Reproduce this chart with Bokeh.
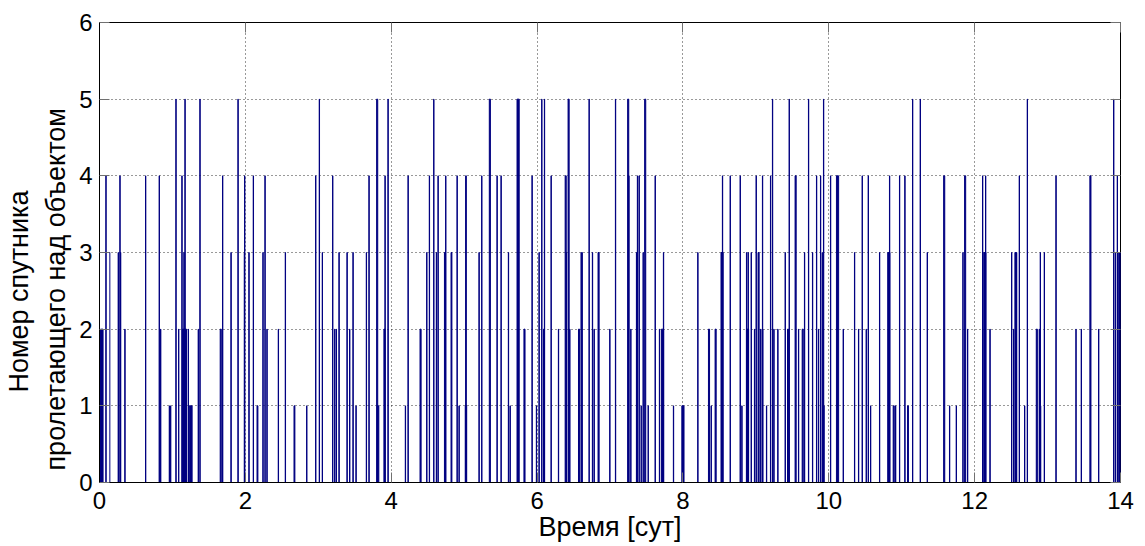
from bokeh.plotting import figure
from bokeh.models import LinearAxis, FixedTicker, ColumnDataSource, Title
from bokeh.embed import file_html
from bokeh.resources import INLINE

# Satellite passes over the object: start time [days], satellite number, pass duration [days]
pass_start = [
    0.000, 0.014, 0.087, 0.256, 0.279, 0.288, 0.347, 0.631, 0.818, 0.837,
    0.956, 0.974, 1.047, 1.084, 1.129, 1.139, 1.157, 1.171, 1.216, 1.230,
    1.353, 1.376, 1.655, 1.687,
    1.802, 1.898, 1.985, 1.989, 2.048, 2.108, 2.160, 2.240, 2.268, 2.295,
    2.451, 2.547, 2.667, 2.840, 2.963, 3.013, 3.054, 3.196, 3.224, 3.246,
    3.283, 3.393, 3.429, 3.475,
    3.516, 3.658, 3.694, 3.800, 3.810, 3.900, 3.914, 3.955, 4.193, 4.230,
    4.395, 4.486, 4.522, 4.582, 4.618, 4.641, 4.730, 4.746, 4.820, 4.902,
    4.929, 5.020, 5.015, 5.203,
    5.240, 5.345, 5.450, 5.505, 5.606, 5.629, 5.725, 5.820, 5.930, 5.990,
    6.026, 6.063, 6.088, 6.100, 6.191, 6.292, 6.385, 6.400, 6.425, 6.447,
    6.568, 6.603, 6.616, 6.712, 6.758, 6.781, 6.836,
    6.996, 7.074, 7.242, 7.250, 7.284, 7.362, 7.375, 7.398, 7.426, 7.453,
    7.475, 7.522, 7.618, 7.677, 7.705, 7.732, 7.869, 7.985, 8.203, 8.350,
    8.386, 8.441, 8.522, 8.541, 8.647,
    8.784, 8.807, 8.871, 8.893, 8.871, 8.935, 8.980, 9.003, 9.030, 9.063,
    9.090, 9.085, 9.145, 9.200, 9.227, 9.246, 9.300, 9.401, 9.434, 9.456,
    9.538, 9.584, 9.635, 9.666, 9.721, 9.776, 9.831, 9.858, 9.886, 9.909,
    9.927, 9.922, 10.023, 10.105, 10.197, 10.352, 10.407,
    10.457, 10.512, 10.540, 10.572, 10.695, 10.808, 10.832, 10.883, 10.915, 10.969,
    11.042, 11.080, 11.148, 11.253, 11.349, 11.575, 11.655, 11.747, 11.838, 11.862,
    11.902, 12.108, 12.125, 12.149,
    12.209, 12.506, 12.533, 12.552, 12.574, 12.611, 12.684, 12.721, 12.845, 12.885,
    12.899, 12.895, 12.954, 13.114, 13.388, 13.461, 13.580, 13.699, 13.905, 13.928,
    13.955, 13.975,
]
pass_sat = [
    3, 2, 4, 3, 4, 3, 2, 4, 4, 2,
    1, 1, 5, 2, 4, 2, 3, 5, 2, 1,
    2, 5, 2, 4,
    3, 5, 3, 4, 3, 4, 1, 3, 4, 2,
    2, 3, 1, 1, 4, 5, 3, 4, 2, 2,
    3, 3, 2, 3,
    1, 3, 4, 5, 1, 2, 4, 5, 1, 4,
    2, 3, 4, 5, 3, 4, 3, 4, 3, 4,
    1, 4, 1, 3,
    4, 5, 4, 4, 3, 1, 5, 2, 4, 1,
    3, 5, 2, 5, 4, 2, 4, 3, 5, 2,
    2, 3, 3, 5, 3, 2, 3,
    2, 5, 5, 4, 2, 3, 4, 4, 1, 3,
    5, 1, 4, 2, 2, 3, 1, 1, 3, 2,
    1, 2, 3, 4, 4,
    4, 1, 3, 3, 2, 3, 2, 4, 3, 2,
    4, 2, 1, 4, 5, 2, 2, 3, 2, 5,
    4, 2, 2, 3, 5, 3, 4, 2, 4, 3,
    5, 1, 4, 4, 2, 3, 2,
    4, 2, 4, 1, 3, 3, 4, 1, 1, 4,
    4, 1, 5, 5, 3, 4, 1, 1, 3, 4,
    2, 4, 3, 4,
    2, 3, 2, 3, 3, 4, 1, 5, 2, 2,
    3, 1, 3, 4, 2, 2, 4, 2, 5, 3,
    4, 3,
]
pass_dur = [
    0.142, 0.035, 0.004, 0.004, 0.004, 0.004, 0.004, 0.004, 0.004, 0.004,
    0.004, 0.004, 0.004, 0.004, 0.004, 0.054, 0.004, 0.004, 0.004, 0.040,
    0.004, 0.004, 0.015, 0.004,
    0.004, 0.004, 0.004, 0.004, 0.004, 0.004, 0.012, 0.004, 0.004, 0.004,
    0.004, 0.004, 0.012, 0.004, 0.004, 0.004, 0.004, 0.004, 0.004, 0.004,
    0.004, 0.004, 0.004, 0.004,
    0.004, 0.004, 0.004, 0.015, 0.020, 0.015, 0.004, 0.004, 0.004, 0.004,
    0.015, 0.004, 0.004, 0.004, 0.004, 0.004, 0.012, 0.004, 0.012, 0.004,
    0.004, 0.010, 0.020, 0.004,
    0.004, 0.015, 0.004, 0.004, 0.004, 0.004, 0.030, 0.015, 0.004, 0.004,
    0.004, 0.004, 0.012, 0.004, 0.004, 0.004, 0.015, 0.004, 0.015, 0.004,
    0.015, 0.004, 0.004, 0.004, 0.004, 0.004, 0.015,
    0.004, 0.004, 0.015, 0.012, 0.004, 0.004, 0.004, 0.004, 0.004, 0.004,
    0.015, 0.004, 0.004, 0.004, 0.030, 0.004, 0.004, 0.030, 0.004, 0.015,
    0.004, 0.015, 0.030, 0.004, 0.004,
    0.004, 0.004, 0.004, 0.004, 0.030, 0.004, 0.004, 0.004, 0.015, 0.004,
    0.004, 0.012, 0.004, 0.004, 0.004, 0.004, 0.004, 0.004, 0.015, 0.004,
    0.015, 0.004, 0.015, 0.004, 0.004, 0.004, 0.004, 0.004, 0.004, 0.004,
    0.004, 0.015, 0.004, 0.030, 0.004, 0.004, 0.004,
    0.004, 0.004, 0.004, 0.004, 0.004, 0.030, 0.004, 0.015, 0.004, 0.004,
    0.004, 0.012, 0.004, 0.004, 0.004, 0.015, 0.004, 0.004, 0.004, 0.015,
    0.004, 0.004, 0.030, 0.004,
    0.004, 0.004, 0.004, 0.015, 0.004, 0.004, 0.004, 0.004, 0.015, 0.004,
    0.004, 0.012, 0.004, 0.004, 0.004, 0.004, 0.015, 0.004, 0.004, 0.004,
    0.004, 0.025,
]

x_ticks = [0, 2, 4, 6, 8, 10, 12, 14]
y_ticks = [0, 1, 2, 3, 4, 5, 6]
x_label = "Время [сут]"
y_label_lines = ["Номер спутника", "пролетающего над объектом"]

LINE = "#000080"
FONT = "Liberation Sans"

# Each pass is a rectangular pulse: 0 -> satellite number -> 0
xs, ys = [], []
for t, n, d in zip(pass_start, pass_sat, pass_dur):
    xs.append([t, t, t + d, t + d])
    ys.append([0, n, n, 0])

# short passes are filled so that clustered pulses read as solid bars
fill_src = ColumnDataSource(dict(
    left=[t for t, d in zip(pass_start, pass_dur) if d < 0.1],
    right=[t + d for t, d in zip(pass_start, pass_dur) if d < 0.1],
    top=[n for n, d in zip(pass_sat, pass_dur) if d < 0.1],
))

p = figure(width=1145, height=546, x_range=(0, 14), y_range=(0, 6),
           output_backend="svg", toolbar_location=None,
           min_border_left=99, min_border_right=25,
           min_border_top=22, min_border_bottom=64)
p.background_fill_color = "white"
p.border_fill_color = "white"
p.outline_line_color = "black"
p.outline_line_width = 1

p.quad(left="left", right="right", bottom=0, top="top", source=fill_src,
       fill_color=LINE, line_color=None)
p.multi_line(xs, ys, line_color=LINE, line_width=1)

for ax in (p.xaxis[0], p.yaxis[0]):
    ax.major_tick_in = 10
    ax.major_tick_out = 0
    ax.minor_tick_line_color = None
    ax.major_tick_line_color = "#707070"
    ax.axis_line_color = "black"
    ax.major_label_text_font = FONT
    ax.major_label_text_font_size = "24px"
    ax.major_label_text_color = "black"
    ax.axis_label_text_font = FONT
    ax.axis_label_text_font_size = "27px"
    ax.axis_label_text_font_style = "normal"
    ax.axis_label_text_color = "black"

p.xaxis.ticker = FixedTicker(ticks=x_ticks)
p.yaxis.ticker = FixedTicker(ticks=y_ticks)
p.xaxis.axis_label = x_label
p.xaxis.major_label_standoff = 9
p.yaxis.major_label_standoff = 7
p.xaxis.axis_label_standoff = 0

# two-line y label as side titles, each line starting a set distance above the frame bottom
for txt, gap, shift in ((y_label_lines[1], 11, 12), (y_label_lines[0], 0, 90)):
    p.add_layout(Title(text=txt, align="left", offset=shift, standoff=gap,
                       text_font=FONT, text_font_size="27px",
                       text_font_style="normal", text_color="black"), "left")

# tick marks on the top and right sides of the box
top_ax = LinearAxis(ticker=FixedTicker(ticks=x_ticks))
right_ax = LinearAxis(ticker=FixedTicker(ticks=y_ticks))
for ax in (top_ax, right_ax):
    ax.major_tick_in = 10
    ax.major_tick_out = 0
    ax.minor_tick_line_color = None
    ax.major_tick_line_color = "#707070"
    ax.axis_line_color = None
    ax.major_label_text_font_size = "1px"
    ax.major_label_text_color = None
    ax.major_label_standoff = 0
p.add_layout(top_ax, "above")
p.add_layout(right_ax, "right")

p.xgrid.ticker = FixedTicker(ticks=x_ticks)
p.ygrid.ticker = FixedTicker(ticks=y_ticks)
p.grid.grid_line_color = "black"
p.grid.grid_line_alpha = 0.8
p.grid.grid_line_dash = "1 3"
p.grid.grid_line_width = 1

open("out.html", "w").write(file_html(p, INLINE))
